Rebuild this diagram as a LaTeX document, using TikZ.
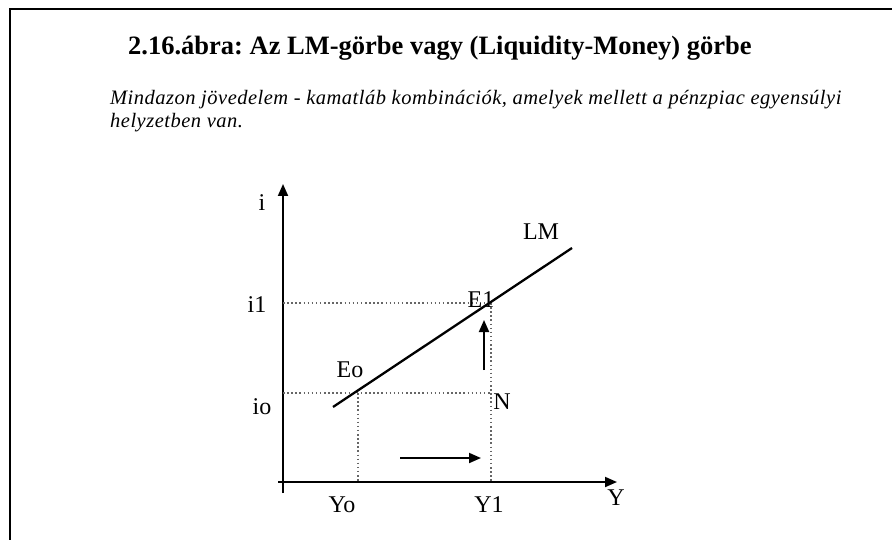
\documentclass[tikz,border=0pt]{standalone}
\usepackage{fontspec}
\setmainfont{Liberation Serif}
\newfontfamily\subfont[LetterSpace=2.4]{Liberation Serif}
\usetikzlibrary{arrows.meta}
\frenchspacing
\tikzset{
  axisline/.style={line width=1.9pt,-{Triangle[length=12pt,width=10pt]}},
  shiftarrow/.style={line width=1.9pt,-{Triangle[length=12pt,width=10pt]}},
  guide/.style={draw=black!60,line width=1.5pt,dash pattern=on 1.5pt off 2.6pt},
  curve/.style={line width=2.3pt},
  lbl/.style={font=\fontsize{24}{27}\selectfont,inner sep=0pt},
  subtext/.style={anchor=base west,inner sep=0pt,font=\subfont\itshape\fontsize{20.5}{23}\selectfont},
}
\begin{document}
\begin{tikzpicture}[x=1pt,y=-1pt]
\useasboundingbox (0,0) rectangle (892,540);
\fill[white] (0,0) rectangle (892,540);
\draw[line width=2.2pt] (10,540) -- (10,9) -- (892,9);

\node[anchor=base west,inner sep=0pt,font=\bfseries\fontsize{26.5}{30}\selectfont] (title) at (128,55) {2.16.ábra: Az LM-görbe vagy (Liquidity-Money) görbe};
\node[subtext] (sub1) at (110,105) {Mindazon jövedelem - kamatláb kombinációk, amelyek mellett a pénzpiac egyensúlyi};
\node[subtext] (sub2) at (110,128) {helyzetben van.};

% axes
\coordinate (ybot) at (283,493);
\coordinate (ytop) at (283,184);
\coordinate (xl) at (278,482);
\coordinate (xr) at (617,482);
\draw[axisline] (ybot) -- (ytop);
\draw[axisline] (xl) -- (xr);

% points
\coordinate (E0) at (358,391);
\coordinate (E1) at (491,303);
\coordinate (Npt) at (491,393);
\coordinate (LMlo) at (333,407);
\coordinate (LMhi) at (572,248);
\coordinate (i1ax) at (283,303);
\coordinate (i0ax) at (283,393);
\coordinate (Y0ax) at (358,482);
\coordinate (Y1ax) at (491,482);

% guides
\draw[guide] (i1ax) -- (E1);
\draw[guide] (i0ax) -- (Npt);
\draw[guide] (E1) -- (Y1ax);
\draw[guide] (358,393) -- (Y0ax);

% LM curve
\draw[curve] (LMlo) -- (LMhi);

% shift arrows
\coordinate (upb) at (484,370);
\coordinate (upt) at (484,320);
\coordinate (rl) at (400,458);
\coordinate (rr) at (481,458);
\draw[shiftarrow] (upb) -- (upt);
\draw[shiftarrow] (rl) -- (rr);

% labels
\node[lbl] (li) at (262,203) {i};
\node[lbl] (li1) at (257,305) {i1};
\node[lbl] (li0) at (262,407) {io};
\node[lbl] (lLM) at (541,232) {LM};
\node[lbl] (lE1) at (481,300) {E1};
\node[lbl] (lE0) at (350,370) {Eo};
\node[lbl] (lN) at (502,402) {N};
\node[lbl] (lY0) at (342,505) {Yo};
\node[lbl] (lY1) at (489,505) {Y1};
\node[lbl] (lY) at (616,498) {Y};
\end{tikzpicture}
\end{document}
